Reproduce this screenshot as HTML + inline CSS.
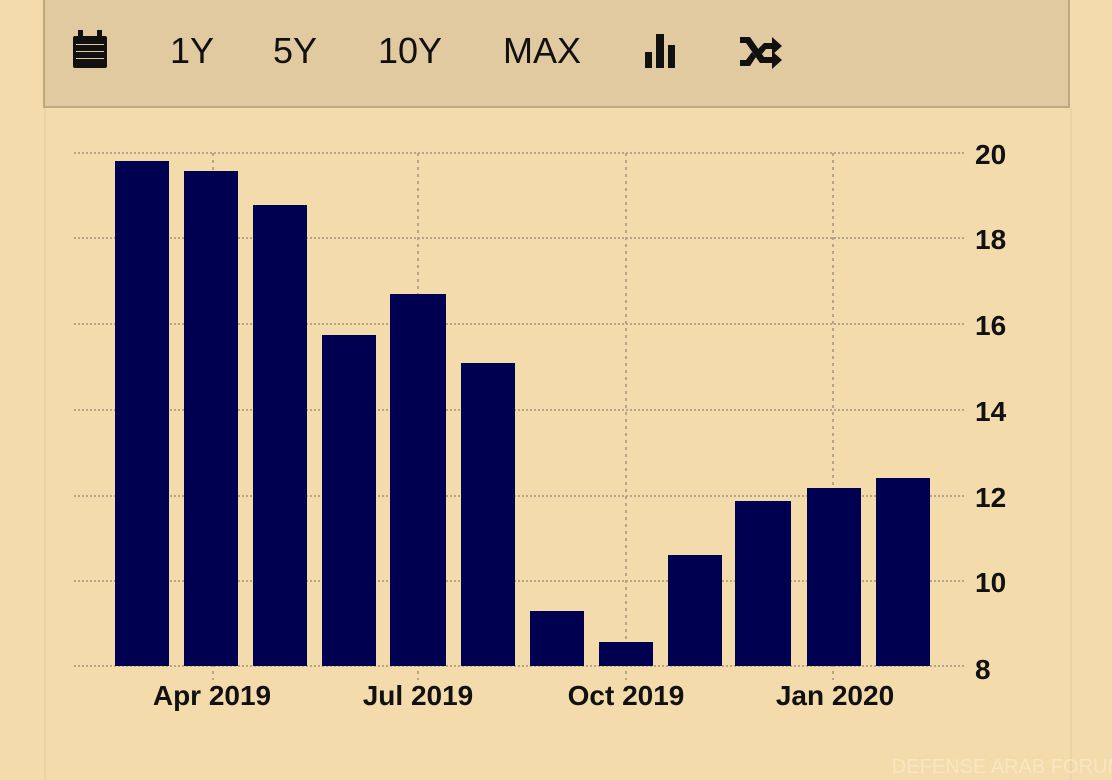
<!DOCTYPE html>
<html><head><style>
body{margin:0;width:1112px;height:780px;background:#f3dbab;overflow:hidden;font-family:"Liberation Sans",sans-serif;}
.tb{position:absolute;left:43px;top:-2px;width:1023px;height:106px;background:#e2caa0;border:2px solid #bca882;}
.t{position:absolute;top:30px;font-size:36px;color:#111;}
.panel{position:absolute;left:44px;top:108px;width:1024px;height:672px;border-right:2px solid #ead3a4;border-left:2px solid #ead3a4;}
</style></head><body>
<div class="panel"></div>
<div class="tb"></div>
<svg style="position:absolute;left:0;top:0" width="1112" height="780">
<g fill="#111">
<rect x="73" y="36" width="34" height="32" rx="2"/>
<rect x="78" y="30" width="5" height="8"/><rect x="97" y="30" width="5" height="8"/>
<rect x="645" y="52" width="7" height="16"/><rect x="656" y="34" width="8" height="34"/><rect x="668" y="45" width="7" height="23"/>
<path d="M740 37h10l14 20h8v-6l10 9-10 9v-6h-12l-14-20h-6z"/>
<path d="M740 60h6l6-8 4 5-6 9h-10z M764 43h8v-6l10 9-10 9v-6h-6l-4 5-4-5z"/>
</g>
<g fill="#e2caa0"><rect x="76" y="44" width="28" height="1"/><rect x="76" y="51" width="28" height="1"/><rect x="76" y="58" width="28" height="1"/></g>
<g stroke="#b5a68a" stroke-width="2" stroke-dasharray="2,2">
<line x1="74" y1="153" x2="965" y2="153"/><line x1="74" y1="238" x2="965" y2="238"/>
<line x1="74" y1="324" x2="965" y2="324"/><line x1="74" y1="410" x2="965" y2="410"/>
<line x1="74" y1="496" x2="965" y2="496"/><line x1="74" y1="581" x2="965" y2="581"/>
<line x1="74" y1="666" x2="965" y2="666"/>
</g>
<g stroke="#b5a68a" stroke-width="2" stroke-dasharray="3,4">
<line x1="213" y1="153" x2="213" y2="680"/><line x1="418" y1="153" x2="418" y2="680"/>
<line x1="626" y1="153" x2="626" y2="680"/><line x1="833" y1="153" x2="833" y2="680"/>
</g>
<g fill="#000050">
<rect x="115" y="161" width="54" height="505"/><rect x="184" y="171" width="54" height="495"/>
<rect x="253" y="205" width="54" height="461"/><rect x="322" y="335" width="54" height="331"/>
<rect x="390" y="294" width="56" height="372"/><rect x="461" y="363" width="54" height="303"/>
<rect x="530" y="611" width="54" height="55"/><rect x="599" y="642" width="54" height="24"/>
<rect x="668" y="555" width="54" height="111"/><rect x="735" y="501" width="56" height="165"/>
<rect x="807" y="488" width="54" height="178"/><rect x="876" y="478" width="54" height="188"/>
</g>
<g font-family="Liberation Sans" font-weight="bold" font-size="28" fill="#111">
<text x="975" y="164">20</text><text x="975" y="249">18</text><text x="975" y="335">16</text>
<text x="975" y="421">14</text><text x="975" y="507">12</text><text x="975" y="592">10</text>
<text x="975" y="679">8</text>
<g text-anchor="middle"><text x="212" y="705">Apr 2019</text><text x="418" y="705">Jul 2019</text>
<text x="626" y="705">Oct 2019</text><text x="835" y="705">Jan 2020</text></g>
</g>
<text x="1008" y="773" font-family="Liberation Sans" font-size="20" fill="#f8e6c2" text-anchor="middle">DEFENSE ARAB FORUM</text>
</svg>
<div class="t" style="left:170px">1Y</div>
<div class="t" style="left:273px">5Y</div>
<div class="t" style="left:378px">10Y</div>
<div class="t" style="left:503px">MAX</div>
</body></html>
